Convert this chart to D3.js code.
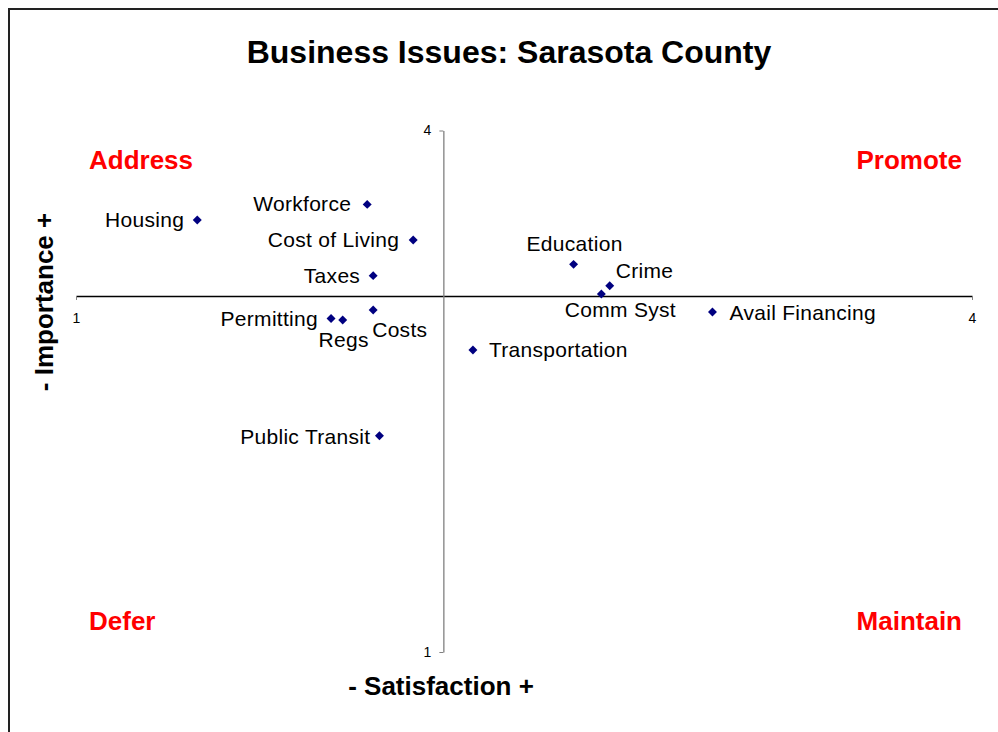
<!DOCTYPE html>
<html>
<head>
<meta charset="utf-8">
<script src="https://cdn.jsdelivr.net/npm/d3@7"></script>
<style>
  html, body { margin: 0; padding: 0; background: #fff; }
  svg { display: block; font-family: "Liberation Sans", Arial, sans-serif; }
  .axis text { font-size: 14px; font-family: "Liberation Sans", Arial, sans-serif; fill: #000; }
</style>
</head>
<body>
<div id="chart"></div>
<script>
// Business issues quadrant chart (satisfaction vs importance)
const issues = ["Housing", "Workforce", "Cost of Living", "Taxes", "Costs", "Permitting", "Regs",
  "Public Transit", "Transportation", "Education", "Crime", "Comm Syst", "Avail Financing"];
const satisfaction = [1.406, 1.975, 2.129, 1.995, 1.995, 1.854, 1.893, 2.016, 2.329, 2.666, 2.787, 2.759, 3.131];
const importance = [3.485, 3.575, 3.370, 3.165, 2.967, 2.919, 2.910, 2.244, 2.737, 3.230, 3.107, 3.059, 2.956];

// where the axes cross (averages)
const crossSatisfaction = 2.23;
const crossImportance = 3.048;
const tickValues = [1, 4];

const quadrants = ["Address", "Promote", "Defer", "Maintain"];

// label placement around each marker (anchor, dx, dy to baseline)
const labelPlacement = {
  "Housing": ["end", -13, 7],
  "Workforce": ["end", -16, 7],
  "Cost of Living": ["end", -14, 7],
  "Taxes": ["end", -13, 7],
  "Costs": ["start", -1, 27],
  "Permitting": ["end", -13, 8],
  "Regs": ["middle", 1, 27],
  "Public Transit": ["end", -9, 8],
  "Transportation": ["start", 16, 7],
  "Education": ["middle", 1, -13],
  "Crime": ["start", 6, -8],
  "Comm Syst": ["middle", 19, 23],
  "Avail Financing": ["start", 17, 8]
};

const W = 998, H = 732;

const svg = d3.select("#chart").append("svg")
  .attr("width", W)
  .attr("height", H);

// outer frame (runs off the right and bottom edges)
svg.append("rect")
  .attr("x", 9).attr("y", 9)
  .attr("width", 1000).attr("height", 1000)
  .attr("fill", "#fff")
  .attr("stroke", "#222")
  .attr("stroke-width", 2);

const x = d3.scaleLinear().domain([1, 4]).range([76, 972]);
const y = d3.scaleLinear().domain([1, 4]).range([652, 130.5]);

// title
svg.append("text")
  .attr("x", 509).attr("y", 63)
  .attr("text-anchor", "middle")
  .style("font-size", "32px")
  .style("font-weight", "bold")
  .text("Business Issues: Sarasota County");

// horizontal axis through mean importance
const xAxis = svg.append("g")
  .attr("class", "axis")
  .attr("transform", `translate(0,${y(crossImportance)})`)
  .call(d3.axisBottom(x).tickValues(tickValues).tickSize(4).tickSizeOuter(0).tickPadding(13).tickFormat(d3.format("d")));
xAxis.attr("font-size", null).attr("font-family", null);
xAxis.select(".domain").attr("stroke", "#000").attr("stroke-width", 1.3);
xAxis.selectAll(".tick line").attr("stroke", "#808080");

// vertical axis through mean satisfaction
const yAxis = svg.append("g")
  .attr("class", "axis")
  .attr("transform", `translate(${x(crossSatisfaction)},0)`)
  .call(d3.axisLeft(y).tickValues(tickValues).tickSize(4).tickSizeOuter(0).tickPadding(8).tickFormat(d3.format("d")));
yAxis.attr("font-size", null).attr("font-family", null);
yAxis.select(".domain").attr("stroke", "#808080").attr("stroke-width", 1.3);
yAxis.selectAll(".tick line").attr("stroke", "#808080");

// axis titles
svg.append("text")
  .attr("x", 441).attr("y", 695)
  .attr("text-anchor", "middle")
  .style("font-size", "26px")
  .style("font-weight", "bold")
  .text("- Satisfaction +");

svg.append("text")
  .attr("transform", "translate(53,302) rotate(-90)")
  .attr("text-anchor", "middle")
  .style("font-size", "26px")
  .style("font-weight", "bold")
  .text("- Importance +");

// quadrant labels
const quadPos = [
  {x: 89, y: 169, anchor: "start"},
  {x: 962, y: 169, anchor: "end"},
  {x: 89, y: 630, anchor: "start"},
  {x: 962, y: 630, anchor: "end"}
];
svg.selectAll(".quad")
  .data(quadrants)
  .enter()
  .append("text")
  .attr("class", "quad")
  .attr("x", (d, i) => quadPos[i].x)
  .attr("y", (d, i) => quadPos[i].y)
  .attr("text-anchor", (d, i) => quadPos[i].anchor)
  .attr("fill", "#ff0000")
  .style("font-size", "26px")
  .style("font-weight", "bold")
  .text(d => d);

const points = issues.map((name, i) => ({name: name, sat: satisfaction[i], imp: importance[i]}));

// markers
svg.selectAll(".pt")
  .data(points)
  .enter()
  .append("path")
  .attr("class", "pt")
  .attr("d", d3.symbol(d3.symbolSquare, 40))
  .attr("transform", d => `translate(${x(d.sat)},${y(d.imp)}) rotate(45)`)
  .attr("fill", "#000080");

// point labels
svg.selectAll(".lbl")
  .data(points)
  .enter()
  .append("text")
  .attr("class", "lbl")
  .attr("x", d => x(d.sat) + labelPlacement[d.name][1])
  .attr("y", d => y(d.imp) + labelPlacement[d.name][2])
  .attr("text-anchor", d => labelPlacement[d.name][0])
  .attr("fill", "#000")
  .style("font-size", "21px")
  .style("letter-spacing", "0.3px")
  .text(d => d.name);
</script>
</body>
</html>
